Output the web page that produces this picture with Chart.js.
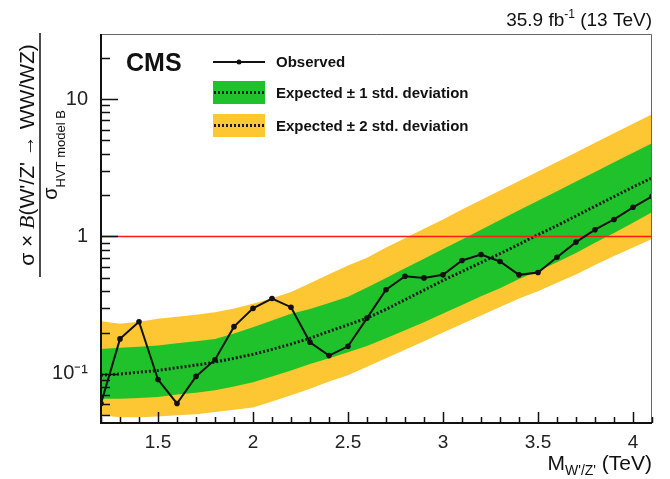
<!DOCTYPE html>
<html>
<head>
<meta charset="utf-8">
<script src="https://cdn.jsdelivr.net/npm/chart.js@4.4.1/dist/chart.umd.min.js"></script>
<style>
  html, body { margin: 0; padding: 0; background: #fff; }
  canvas { display: block; }
</style>
</head>
<body>
<canvas id="limitChart" width="670" height="479"></canvas>
<script>
// masa de la resonancia W'/Z' en TeV
const masses = [1.2, 1.3, 1.4, 1.5, 1.6, 1.7, 1.8, 1.9, 2.0, 2.1, 2.2, 2.3, 2.4, 2.5, 2.6,
                2.7, 2.8, 2.9, 3.0, 3.1, 3.2, 3.3, 3.4, 3.5, 3.6, 3.7, 3.8, 3.9, 4.0, 4.1];
const observed = [0.061, 0.180, 0.24, 0.091, 0.061, 0.096, 0.127, 0.221, 0.30, 0.354, 0.306, 0.170, 0.136, 0.159, 0.255,
                  0.41, 0.514, 0.50, 0.526, 0.669, 0.74, 0.658, 0.526, 0.547, 0.707, 0.91, 1.12, 1.33, 1.63, 1.96];
const expected = [0.098, 0.100, 0.103, 0.106, 0.111, 0.116, 0.122, 0.130, 0.139, 0.151, 0.165, 0.182, 0.204, 0.228, 0.255,
                  0.295, 0.347, 0.407, 0.479, 0.556, 0.646, 0.75, 0.877, 1.03, 1.20, 1.41, 1.66, 1.95, 2.29, 2.67];
const band1Up = [0.152, 0.155, 0.158, 0.161, 0.167, 0.173, 0.180, 0.197, 0.219, 0.245, 0.274, 0.297, 0.328, 0.365, 0.425,
                 0.50, 0.587, 0.69, 0.81, 0.95, 1.12, 1.32, 1.55, 1.82, 2.13, 2.51, 2.94, 3.46, 4.06, 4.77];
const band1Down = [0.066, 0.066, 0.067, 0.068, 0.071, 0.073, 0.076, 0.081, 0.087, 0.096, 0.106, 0.118, 0.130, 0.144, 0.160,
                   0.182, 0.208, 0.238, 0.275, 0.318, 0.367, 0.42, 0.49, 0.56, 0.65, 0.76, 0.90, 1.06, 1.26, 1.50];
const band2Up = [0.242, 0.232, 0.240, 0.252, 0.261, 0.270, 0.281, 0.300, 0.324, 0.355, 0.394, 0.457, 0.531, 0.615, 0.70,
                 0.83, 0.97, 1.14, 1.33, 1.57, 1.84, 2.16, 2.53, 2.97, 3.48, 4.09, 4.80, 5.63, 6.61, 7.76];
const band2Down = [0.050, 0.0485, 0.0485, 0.049, 0.050, 0.051, 0.053, 0.055, 0.057, 0.063, 0.070, 0.078, 0.088, 0.098, 0.113,
                   0.130, 0.150, 0.173, 0.200, 0.231, 0.266, 0.307, 0.354, 0.40, 0.46, 0.53, 0.62, 0.72, 0.83, 0.96];
// linea de referencia (sigma / sigma_HVT = 1)
const refMasses = [1.2, 4.1];
const refValues = [1, 1];

const xTickValues = [1.5, 2, 2.5, 3, 3.5, 4];
const xTickLabels = ['1.5', '2', '2.5', '3', '3.5', '4'];
const yTickValues = [0.1, 1, 10];
const yTickLabels = ['10\u207B\u00B9', '1', '10'];

const legendLabels = ['Observed', 'Expected \u00B1 1 std. deviation', 'Expected \u00B1 2 std. deviation'];

const GREEN = '#20c22b';
const YELLOW = '#fdc633';

function toPoints(xs, ys) {
    return xs.map((x, i) => ({ x: x, y: ys[i] }));
}

function near(a, b) { return Math.abs(a - b) < 1e-6; }

const sansFont = '"Liberation Sans", Arial, sans-serif';

// marco, marcas de los ejes y textos estilo ROOT
const cmsDecor = {
    id: 'cmsDecor',
    afterDraw(chart) {
        const ctx = chart.ctx;
        const a = chart.chartArea;
        const xs = chart.scales.x;
        const ys = chart.scales.y;
        ctx.save();

        // marco
        ctx.strokeStyle = '#666';
        ctx.lineWidth = 1;
        ctx.beginPath();
        ctx.moveTo(a.left, a.top + 0.5);
        ctx.lineTo(a.right - 0.5, a.top + 0.5);
        ctx.lineTo(a.right - 0.5, a.bottom);
        ctx.stroke();
        ctx.strokeStyle = '#111';
        ctx.lineWidth = 2;
        ctx.beginPath();
        ctx.moveTo(a.left, a.top);
        ctx.lineTo(a.left, a.bottom);
        ctx.lineTo(a.right, a.bottom);
        ctx.stroke();

        // marcas eje y (hacia adentro)
        ctx.lineWidth = 1.5;
        ctx.beginPath();
        [0.01, 0.1, 1, 10].forEach(d => {
            for (let k = 1; k <= 9; k++) {
                const v = k * d;
                if (v < ys.min || v > ys.max) continue;
                const py = Math.round(ys.getPixelForValue(v)) + 0.5;
                const len = k === 1 ? 17 : 9;
                ctx.moveTo(a.left, py);
                ctx.lineTo(a.left + len, py);
            }
        });
        // marcas eje x
        for (let i = 12; i <= 41; i++) {
            const px = Math.round(xs.getPixelForValue(i / 10)) + 0.5;
            const len = i % 5 === 0 ? 11 : 6;
            ctx.moveTo(px, a.bottom);
            ctx.lineTo(px, a.bottom - len);
        }
        ctx.stroke();

        ctx.fillStyle = '#111';
        ctx.textBaseline = 'alphabetic';

        // CMS
        ctx.font = 'bold 25px ' + sansFont;
        ctx.textAlign = 'left';
        ctx.fillText('CMS', 126, 71);

        // luminosidad
        ctx.font = '19px ' + sansFont;
        ctx.textAlign = 'right';
        const tail = ' (13 TeV)';
        const wTail = ctx.measureText(tail).width;
        ctx.fillText(tail, 652, 26);
        ctx.font = '12px ' + sansFont;
        const wSup = ctx.measureText('-1').width;
        ctx.fillText('-1', 652 - wTail, 18);
        ctx.font = '19px ' + sansFont;
        ctx.fillText('35.9 fb', 652 - wTail - wSup, 26);

        // leyenda
        const lx0 = 213, lx1 = 265, tx = 276;
        ctx.strokeStyle = '#111';
        ctx.lineWidth = 2;
        ctx.beginPath();
        ctx.moveTo(lx0, 62);
        ctx.lineTo(lx1, 62);
        ctx.stroke();
        ctx.beginPath();
        ctx.arc((lx0 + lx1) / 2, 62, 2.5, 0, Math.PI * 2);
        ctx.fill();
        [[GREEN, 81, 104], [YELLOW, 114, 137]].forEach(([c, t, b]) => {
            ctx.fillStyle = c;
            ctx.fillRect(lx0, t, lx1 - lx0, b - t);
            ctx.strokeStyle = '#1a1a1a';
            ctx.lineWidth = 3;
            ctx.setLineDash([2, 2]);
            ctx.beginPath();
            ctx.moveTo(lx0 + 1, (t + b) / 2);
            ctx.lineTo(lx1 - 1, (t + b) / 2);
            ctx.stroke();
            ctx.setLineDash([]);
        });
        ctx.fillStyle = '#111';
        ctx.textAlign = 'left';
        ctx.font = 'bold 15px ' + sansFont;
        ctx.fillText(legendLabels[0], tx, 67);
        ctx.fillText(legendLabels[1], tx, 98);
        ctx.fillText(legendLabels[2], tx, 131);

        // titulo eje x: M_{W'/Z'} (TeV)
        ctx.font = '21px ' + sansFont;
        const wT = ctx.measureText(' (TeV)').width;
        ctx.textAlign = 'right';
        ctx.fillText(' (TeV)', 652, 470);
        ctx.font = '14px ' + sansFont;
        const wS = ctx.measureText("W'/Z'").width;
        ctx.fillText("W'/Z'", 652 - wT, 475);
        ctx.font = '21px ' + sansFont;
        ctx.fillText('M', 652 - wT - wS, 470);

        // titulo eje y (fraccion)
        ctx.translate(0, 155);
        ctx.rotate(-Math.PI / 2);
        ctx.textAlign = 'left';
        const p1 = '\u03C3 \u00D7 ';
        const p3 = "(W'/Z' \u2192 WW/WZ)";
        ctx.font = '21px ' + sansFont;
        const w1 = ctx.measureText(p1).width;
        const w3 = ctx.measureText(p3).width;
        ctx.font = 'italic 22px "Liberation Serif", serif';
        const w2 = ctx.measureText('B').width;
        let u = -(w1 + w2 + w3) / 2;
        ctx.font = '21px ' + sansFont;
        ctx.fillText(p1, u, 34);
        ctx.font = 'italic 22px "Liberation Serif", serif';
        ctx.fillText('B', u + w1, 34);
        ctx.font = '21px ' + sansFont;
        ctx.fillText(p3, u + w1 + w2, 34);
        // linea de fraccion
        ctx.strokeStyle = '#111';
        ctx.lineWidth = 1.5;
        ctx.beginPath();
        ctx.moveTo(-122, 40);
        ctx.lineTo(122, 40);
        ctx.stroke();
        // denominador
        ctx.font = '20px ' + sansFont;
        const ws = ctx.measureText('\u03C3').width;
        ctx.font = '13px ' + sansFont;
        const wsub = ctx.measureText('HVT model B').width;
        u = -(ws + wsub) / 2;
        ctx.font = '20px ' + sansFont;
        ctx.fillText('\u03C3', u, 57);
        ctx.font = '13px ' + sansFont;
        ctx.fillText('HVT model B', u + ws, 65);

        ctx.restore();
    }
};

const ctx = document.getElementById('limitChart').getContext('2d');
new Chart(ctx, {
    type: 'line',
    data: {
        datasets: [
            {
                label: 'Observed',
                data: toPoints(masses, observed),
                borderColor: '#111',
                backgroundColor: '#111',
                borderWidth: 2,
                pointRadius: 2.8,
                pointBorderWidth: 0,
                pointBackgroundColor: '#111',
                fill: false
            },
            {
                label: 'ref',
                data: toPoints(refMasses, refValues),
                borderColor: '#ff1a1a',
                borderWidth: 1.5,
                pointRadius: 0,
                fill: false
            },
            {
                label: 'Expected',
                data: toPoints(masses, expected),
                borderColor: '#1a1a1a',
                borderWidth: 3,
                borderDash: [2, 2],
                pointRadius: 0,
                fill: false
            },
            {
                label: '+1 sigma',
                data: toPoints(masses, band1Up),
                borderWidth: 0,
                borderColor: 'rgba(0,0,0,0)',
                backgroundColor: GREEN,
                pointRadius: 0,
                fill: 4
            },
            {
                label: '-1 sigma',
                data: toPoints(masses, band1Down),
                borderWidth: 0,
                borderColor: 'rgba(0,0,0,0)',
                pointRadius: 0,
                fill: false
            },
            {
                label: '+2 sigma',
                data: toPoints(masses, band2Up),
                borderWidth: 0,
                borderColor: 'rgba(0,0,0,0)',
                backgroundColor: YELLOW,
                pointRadius: 0,
                fill: 6
            },
            {
                label: '-2 sigma',
                data: toPoints(masses, band2Down),
                borderWidth: 0,
                borderColor: 'rgba(0,0,0,0)',
                pointRadius: 0,
                fill: false
            }
        ]
    },
    options: {
        responsive: false,
        animation: false,
        devicePixelRatio: 1,
        layout: { padding: { left: 0, top: 34, right: 18, bottom: 0 } },
        plugins: {
            legend: { display: false },
            tooltip: { enabled: false }
        },
        elements: { line: { tension: 0 } },
        scales: {
            x: {
                type: 'linear',
                min: 1.2,
                max: 4.1,
                grid: { display: false, drawTicks: false },
                border: { display: false },
                afterBuildTicks: (scale) => {
                    scale.ticks = xTickValues.map(v => ({ value: v }));
                },
                afterFit: (scale) => { scale.height = 56; },
                ticks: {
                    autoSkip: false,
                    maxRotation: 0,
                    padding: 8,
                    color: '#222',
                    font: { family: sansFont, size: 19 },
                    callback: (v) => {
                        const i = xTickValues.findIndex(t => near(t, v));
                        return i >= 0 ? xTickLabels[i] : '';
                    }
                }
            },
            y: {
                type: 'logarithmic',
                min: 0.044,
                max: 29.7,
                grid: { display: false, drawTicks: false },
                border: { display: false },
                afterBuildTicks: (scale) => {
                    scale.ticks = yTickValues.map(v => ({ value: v }));
                },
                afterFit: (scale) => { scale.width = 101; },
                ticks: {
                    autoSkip: false,
                    padding: 13,
                    color: '#222',
                    font: { family: sansFont, size: 20 },
                    callback: (v) => {
                        const i = yTickValues.findIndex(t => near(t, v));
                        return i >= 0 ? yTickLabels[i] : '';
                    }
                }
            }
        }
    },
    plugins: [cmsDecor]
});
</script>
</body>
</html>
